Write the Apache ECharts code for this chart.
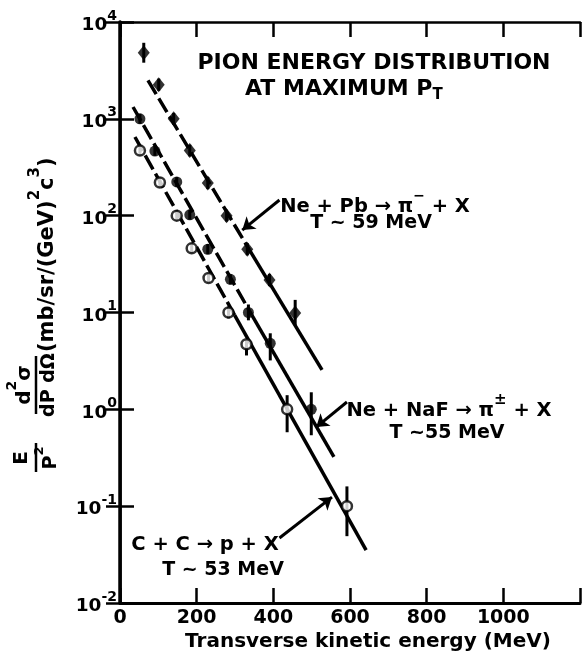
<!DOCTYPE html>
<html>
<head>
<meta charset="utf-8">
<script src="https://cdn.jsdelivr.net/npm/echarts@6/dist/echarts.min.js"></script>
<style>
html,body{margin:0;padding:0;background:#fff;}
#chart{width:583px;height:655px;}
</style>
</head>
<body>
<div id="chart"></div>
<script>
// ---- data ----
const xTicks = [0, 200, 400, 600, 800, 1000, 1200];
const yDecades = [0.01, 0.1, 1, 10, 100, 1000, 10000];

// Ne + Pb -> pi- + X (filled diamonds)
const nePbX  = [62, 101, 140, 182, 229, 278, 332, 390, 457];
const nePbY  = [4800, 2250, 1000, 470, 217, 100, 45, 21.7, 9.9];
const nePbLo = [3800, 1950, 870, 410, 188, 87, 39, 18.8, 7.4];
const nePbHi = [6100, 2600, 1150, 540, 250, 115, 52, 25, 13.5];

// Ne + NaF -> pi+- + X (filled circles)
const neNaFX  = [52, 91, 148, 182, 229, 288, 335, 392, 499];
const neNaFY  = [1000, 465, 223, 102, 45, 22, 10, 4.8, 1.0];
const neNaFLo = [890, 415, 198, 91, 40, 19.5, 8.3, 3.2, 0.54];
const neNaFHi = [1125, 525, 250, 115, 51, 24.8, 12.1, 6.1, 1.5];

// C + C -> p + X (open circles)
const ccX  = [52, 104, 148, 187, 231, 283, 330, 436, 592];
const ccY  = [470, 220, 100, 46, 22.7, 10, 4.7, 1.0, 0.1];
const ccLo = [420, 196, 89, 41, 20.2, 8.7, 3.6, 0.58, 0.049];
const ccHi = [530, 248, 113, 52, 25.6, 11.5, 5.2, 1.4, 0.16];

// fitted lines: start, end of dashed part, end of solid part
const fitNePb  = [[73, 2500], [338, 44], [527, 2.55]];
const fitNeNaF = [[34, 1325], [344, 9.4], [558, 0.322]];
const fitCC    = [[39, 649], [299, 9.4], [642, 0.0352]];

// annotation arrows (tail, head) in data units
const arrowNePb  = [[416, 145], [319, 71]];
const arrowNeNaF = [[592, 1.19], [512, 0.656]];
const arrowCC    = [[416, 0.0469], [553, 0.124]];

// ---- chart ----
const FF = 'DejaVu Sans';
const chart = echarts.init(document.getElementById('chart'), null, {renderer: 'canvas'});

function zip(xs, ys) { return xs.map((x, i) => [x, ys[i]]); }
function errData(xs, lo, hi) { return xs.map((x, i) => [x, lo[i], hi[i]]); }

function errSeries(xs, lo, hi) {
  return {
    type: 'custom',
    data: errData(xs, lo, hi),
    renderItem: function (params, api) {
      const p1 = api.coord([api.value(0), api.value(1)]);
      const p2 = api.coord([api.value(0), api.value(2)]);
      return {
        type: 'line',
        shape: {x1: p1[0], y1: p1[1], x2: p2[0], y2: p2[1]},
        style: {stroke: '#000', lineWidth: 3}
      };
    },
    z: 3
  };
}

function fitSeries(fit, arrow) {
  return [
    {
      type: 'line', data: [fit[0], fit[1]], symbol: 'none',
      lineStyle: {color: '#000', width: 3.5, type: [16, 5]}, z: 2
    },
    {
      type: 'line', data: [fit[1], fit[2]], symbol: 'none',
      lineStyle: {color: '#000', width: 3.5}, z: 2,
      markLine: {
        silent: true, symbol: ['none', 'arrow'], symbolSize: 12,
        label: {show: false},
        lineStyle: {color: '#000', width: 3, type: 'solid'},
        data: [[{coord: arrow[0]}, {coord: arrow[1]}]]
      }
    }
  ];
}

const txt = {fill: '#000', fontFamily: FF, fontWeight: 'bold'};

// rich text helper: normal token n, superscript token s
function richSS(fs, sfs) {
  return {
    n: {fontSize: fs, fontFamily: FF, fontWeight: 'bold', fill: '#000', lineHeight: Math.round(fs * 1.45), verticalAlign: 'bottom'},
    s: {fontSize: sfs, fontFamily: FF, fontWeight: 'bold', fill: '#000', lineHeight: sfs, verticalAlign: 'top'}
  };
}

function rtext(x, y, text, fs, sfs, align, parentRot) {
  return {
    type: 'text', x: x, y: y,
    style: {text: text, align: align || 'center', verticalAlign: 'middle', rich: richSS(fs, sfs), fill: '#000', fontFamily: FF, fontWeight: 'bold', fontSize: fs}
  };
}

const option = {
  animation: false,
  backgroundColor: '#fff',
  grid: {left: 120, top: 22, width: 462, height: 581},
  xAxis: [
    {
      type: 'value', min: xTicks[0], max: xTicks[xTicks.length - 1], interval: 200, position: 'bottom',
      axisLine: {lineStyle: {color: '#000', width: 3}},
      axisTick: {inside: true, length: 15, lineStyle: {color: '#000', width: 2.5}},
      axisLabel: {
        color: '#000', fontFamily: FF, fontWeight: 'bold', fontSize: 19, margin: 6,
        formatter: v => (v === 1200 ? '' : String(v))
      },
      splitLine: {show: false}
    },
    {
      type: 'value', min: xTicks[0], max: xTicks[xTicks.length - 1], interval: 200, position: 'top',
      axisLine: {lineStyle: {color: '#000', width: 2.5}},
      axisTick: {inside: true, length: 15, lineStyle: {color: '#000', width: 2.5}},
      axisLabel: {show: false}, splitLine: {show: false}
    }
  ],
  yAxis: [
    {
      type: 'log', logBase: 10, min: yDecades[0], max: yDecades[yDecades.length - 1], splitNumber: 6, position: 'left',
      axisLine: {lineStyle: {color: '#000', width: 3.5}},
      axisTick: {inside: true, length: 14, lineStyle: {color: '#000', width: 2.5}},
      axisLabel: {
        margin: 3,
        formatter: v => '{b|10}{s|' + Math.round(Math.log10(v)) + '}',
        rich: {
          b: {fontSize: 18.5, fontFamily: FF, fontWeight: 'bold', color: '#000', lineHeight: 26, verticalAlign: 'bottom'},
          s: {fontSize: 14, fontFamily: FF, fontWeight: 'bold', color: '#000', lineHeight: 14, verticalAlign: 'top'}
        }
      },
      splitLine: {show: false}
    },
    {
      type: 'log', logBase: 10, min: yDecades[0], max: yDecades[yDecades.length - 1], splitNumber: 6, position: 'right',
      axisLine: {lineStyle: {color: '#000', width: 2.5}},
      axisTick: {inside: true, length: 14, lineStyle: {color: '#000', width: 2.5}},
      axisLabel: {show: false}, splitLine: {show: false}
    }
  ],
  series: [].concat(
    fitSeries(fitNePb, arrowNePb),
    fitSeries(fitNeNaF, arrowNeNaF),
    fitSeries(fitCC, arrowCC),
    [
      errSeries(nePbX, nePbLo, nePbHi),
      errSeries(neNaFX, neNaFLo, neNaFHi),
      errSeries(ccX, ccLo, ccHi),
      {type: 'scatter', data: zip(nePbX, nePbY), symbol: 'diamond', symbolSize: [12, 15],
       itemStyle: {color: '#000'}, z: 4},
      {type: 'scatter', data: zip(neNaFX, neNaFY), symbol: 'circle', symbolSize: 11,
       itemStyle: {color: '#000'}, z: 4},
      {type: 'scatter', data: zip(ccX, ccY), symbol: 'circle', symbolSize: 10,
       itemStyle: {color: '#fff', borderColor: '#000', borderWidth: 2.5}, z: 4}
    ]
  ),
  graphic: [
    // title
    {type: 'text', x: 374, y: 63, style: Object.assign({text: 'PION ENERGY DISTRIBUTION', fontSize: 22, align: 'center', verticalAlign: 'middle'}, txt)},
    {type: 'text', x: 245, y: 89, style: Object.assign({
      text: '{m|AT MAXIMUM P}{u|T}', align: 'left', verticalAlign: 'middle',
      rich: {
        m: {fontSize: 22, fontFamily: FF, fontWeight: 'bold', fill: '#000', lineHeight: 28},
        u: {fontSize: 15, fontFamily: FF, fontWeight: 'bold', fill: '#000', lineHeight: 15, verticalAlign: 'bottom', padding: [6, 0, 0, 0]}
      }
    }, txt)},
    // series labels
    rtext(375, 203, '{n|Ne + Pb → π}{s|−}{n| + X}', 19.5, 14),
    {type: 'text', x: 371, y: 223, style: Object.assign({text: 'T ~ 59 MeV', fontSize: 19, align: 'center', verticalAlign: 'middle'}, txt)},
    rtext(449, 407, '{n|Ne + NaF → π}{s|±}{n| + X}', 19.5, 15),
    {type: 'text', x: 447, y: 433, style: Object.assign({text: 'T ~55 MeV', fontSize: 19, align: 'center', verticalAlign: 'middle'}, txt)},
    {type: 'text', x: 205, y: 545, style: Object.assign({text: 'C + C → p + X', fontSize: 19.5, align: 'center', verticalAlign: 'middle'}, txt)},
    {type: 'text', x: 223, y: 570, style: Object.assign({text: 'T ~ 53 MeV', fontSize: 19, align: 'center', verticalAlign: 'middle'}, txt)},
    // x axis title
    {type: 'text', x: 368, y: 642, style: Object.assign({text: 'Transverse kinetic energy (MeV)', fontSize: 20, align: 'center', verticalAlign: 'middle'}, txt)},
    // y axis title (rotated group)
    {
      type: 'group', x: 55, y: 470, rotation: Math.PI / 2,
      children: [
        {type: 'text', x: 12, y: -33, style: Object.assign({text: 'E', fontSize: 20, align: 'center', verticalAlign: 'middle'}, txt)},
        {type: 'line', shape: {x1: -2, y1: -19, x2: 27, y2: -19}, style: {stroke: '#000', lineWidth: 2.5}},
        rtext(12, -8, '{n|P}{s|2}', 19, 13),
        {type: 'line', shape: {x1: 56, y1: -19, x2: 114, y2: -19}, style: {stroke: '#000', lineWidth: 2.5}},
        rtext(85, -35, '{n|d}{s|2}{n|σ}', 20, 14),
        {type: 'text', x: 85, y: -6, style: Object.assign({text: 'dP dΩ', fontSize: 19, align: 'center', verticalAlign: 'middle'}, txt)},
        rtext(118, -12, '{n|(mb/sr/(GeV)}{s|2}{n|c}{s|3}{n|)}', 21, 15, 'left')
      ]
    }
  ]
};
chart.setOption(option);
</script>
</body>
</html>
